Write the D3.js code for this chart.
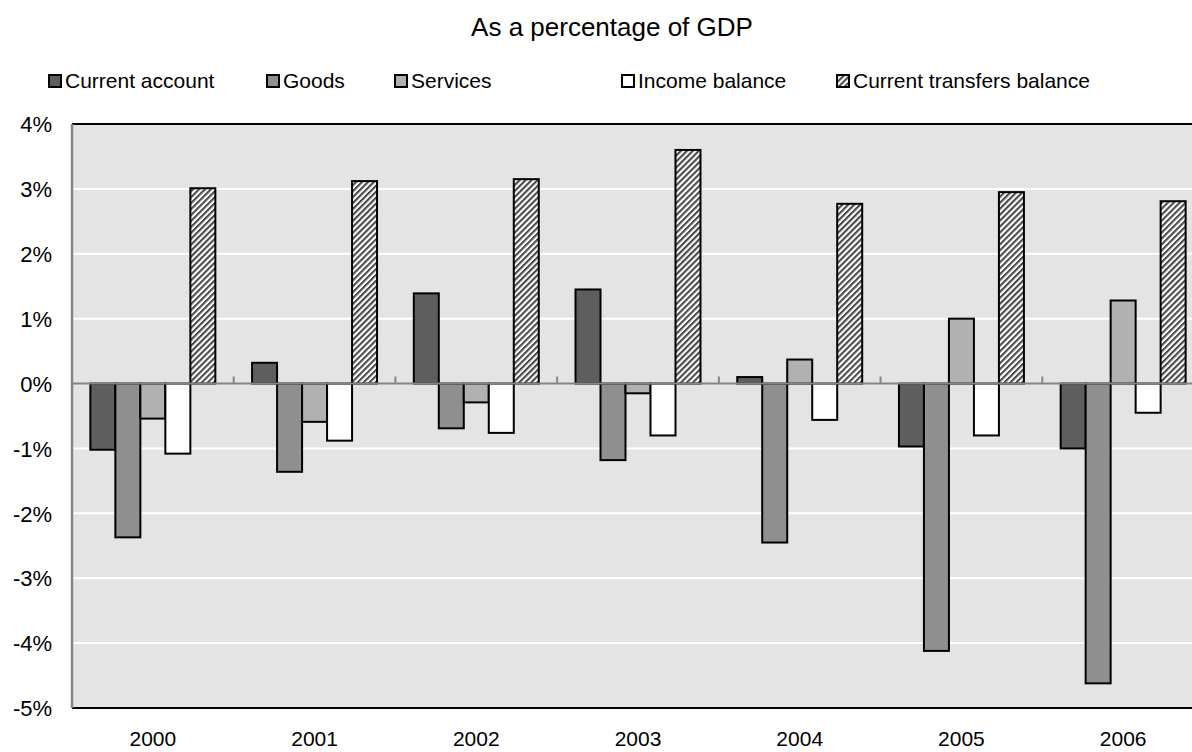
<!DOCTYPE html>
<html>
<head>
<meta charset="utf-8">
<script src="https://cdn.jsdelivr.net/npm/d3@7"></script>
<style>
  body { margin: 0; background: #fff; }
  svg text { font-family: "Liberation Sans", Arial, sans-serif; fill: #000; }
</style>
</head>
<body>
<div id="chart"></div>
<script>
// Data
var years = ["2000", "2001", "2002", "2003", "2004", "2005", "2006"];
var seriesNames = ["Current account", "Goods", "Services", "Income balance", "Current transfers balance"];
var currentAccount = [-1.02, 0.32, 1.39, 1.45, 0.10, -0.97, -1.00];
var goods = [-2.37, -1.36, -0.69, -1.18, -2.45, -4.12, -4.62];
var services = [-0.54, -0.59, -0.29, -0.15, 0.37, 1.00, 1.28];
var incomeBalance = [-1.08, -0.88, -0.76, -0.80, -0.56, -0.80, -0.45];
var transfersBalance = [3.01, 3.12, 3.15, 3.60, 2.77, 2.95, 2.81];
var yTicks = [-5, -4, -3, -2, -1, 0, 1, 2, 3, 4];

var seriesValues = [currentAccount, goods, services, incomeBalance, transfersBalance];
var fills = ["#5e5e5e", "#8f8f8f", "#b1b1b1", "#ffffff", "url(#hatch)"];

// Dimensions
var width = 1192, height = 752;
var plot = { left: 72, right: 1204, top: 124, bottom: 708 };

var svg = d3.select("#chart").append("svg")
    .attr("width", width)
    .attr("height", height);

// hatch pattern for transfers
var defs = svg.append("defs");
var pat = defs.append("pattern")
    .attr("id", "hatch")
    .attr("patternUnits", "userSpaceOnUse")
    .attr("width", 4.2)
    .attr("height", 4.2)
    .attr("patternTransform", "rotate(45)");
pat.append("rect").attr("width", 4.2).attr("height", 4.2).attr("fill", "#ffffff");
pat.append("rect").attr("width", 2.1).attr("height", 4.2).attr("fill", "#4a4a4a");

var x0 = d3.scaleBand().domain(years).range([plot.left, plot.right]).padding(0);
var x1 = d3.scaleBand().domain(seriesNames).range([0, x0.bandwidth()])
    .paddingInner(0).paddingOuter(0.735);
var y = d3.scaleLinear().domain([-5, 4]).range([plot.bottom, plot.top]);

// plot background
svg.append("rect")
    .attr("x", plot.left).attr("y", plot.top)
    .attr("width", plot.right - plot.left).attr("height", plot.bottom - plot.top)
    .attr("fill", "#e4e4e4");

// gridlines
svg.append("g").selectAll("line")
    .data(yTicks.filter(function(d) { return d !== 0 && d !== 4 && d !== -5; }))
    .enter().append("line")
    .attr("x1", plot.left).attr("x2", plot.right)
    .attr("y1", function(d) { return y(d); })
    .attr("y2", function(d) { return y(d); })
    .attr("stroke", "#ffffff")
    .attr("stroke-width", 2);

// bars
var groups = svg.append("g").selectAll("g")
    .data(years)
    .enter().append("g")
    .attr("transform", function(d) { return "translate(" + x0(d) + ",0)"; });

groups.selectAll("rect")
    .data(function(yr, i) {
        return seriesNames.map(function(s, j) {
            return { name: s, value: seriesValues[j][i], fill: fills[j] };
        });
    })
    .enter().append("rect")
    .attr("x", function(d) { return x1(d.name); })
    .attr("width", x1.bandwidth())
    .attr("y", function(d) { return y(Math.max(0, d.value)); })
    .attr("height", function(d) { return Math.abs(y(d.value) - y(0)); })
    .attr("fill", function(d) { return d.fill; })
    .attr("stroke", "#000")
    .attr("stroke-width", 2);

// zero line with category tick marks pointing up
svg.append("line")
    .attr("x1", plot.left).attr("x2", plot.right)
    .attr("y1", y(0)).attr("y2", y(0))
    .attr("stroke", "#858585").attr("stroke-width", 2);

svg.append("g").selectAll("line")
    .data(years.slice(1))
    .enter().append("line")
    .attr("x1", function(d) { return x0(d); })
    .attr("x2", function(d) { return x0(d); })
    .attr("y1", y(0)).attr("y2", y(0) - 7)
    .attr("stroke", "#858585").attr("stroke-width", 2);

// plot border: top and bottom black, left axis grey
svg.append("line")
    .attr("x1", plot.left).attr("x2", plot.right)
    .attr("y1", plot.top).attr("y2", plot.top)
    .attr("stroke", "#000").attr("stroke-width", 2);
svg.append("line")
    .attr("x1", plot.left).attr("x2", plot.right)
    .attr("y1", plot.bottom).attr("y2", plot.bottom)
    .attr("stroke", "#000").attr("stroke-width", 2);
svg.append("line")
    .attr("x1", plot.left).attr("x2", plot.left)
    .attr("y1", plot.top).attr("y2", plot.bottom)
    .attr("stroke", "#858585").attr("stroke-width", 2.5);

// y axis labels
var yAxis = d3.axisLeft(y)
    .tickValues(yTicks)
    .tickSize(0)
    .tickPadding(20)
    .tickFormat(function(d) { return d + "%"; });
var yg = svg.append("g")
    .attr("transform", "translate(" + plot.left + ",0)")
    .call(yAxis);
yg.select(".domain").remove();
yg.selectAll("text")
    .style("font-size", "22px")
    .attr("dy", "0.35em");

// x axis labels
var xAxis = d3.axisBottom(x0).tickSize(0).tickPadding(23);
var xg = svg.append("g")
    .attr("transform", "translate(0," + plot.bottom + ")")
    .call(xAxis);
xg.select(".domain").remove();
xg.selectAll("text").style("font-size", "21px");

// title
svg.append("text")
    .attr("x", 612).attr("y", 36)
    .attr("text-anchor", "middle")
    .style("font-size", "26px")
    .text("As a percentage of GDP");

// legend
var legendX = [49, 267, 395, 622, 837];
var legend = svg.append("g").selectAll("g")
    .data(seriesNames)
    .enter().append("g")
    .attr("transform", function(d, i) { return "translate(" + legendX[i] + ",75)"; });
legend.append("rect")
    .attr("width", 12).attr("height", 12)
    .attr("fill", function(d, i) { return fills[i]; })
    .attr("stroke", "#000").attr("stroke-width", 2);
legend.append("text")
    .attr("x", 16).attr("y", 6)
    .attr("dy", "0.35em")
    .style("font-size", "21px")
    .text(function(d) { return d; });
</script>
</body>
</html>
